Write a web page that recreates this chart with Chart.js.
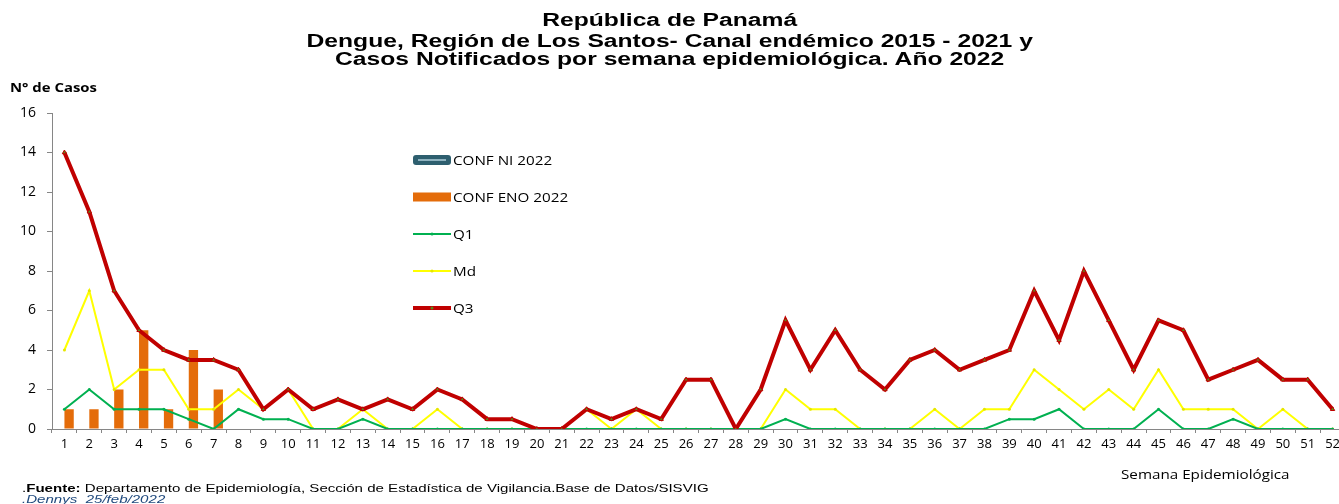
<!DOCTYPE html>
<html lang="es">
<head>
<meta charset="utf-8">
<title>Dengue, Región de Los Santos - Canal endémico</title>
<script src="https://cdn.jsdelivr.net/npm/chart.js@4.4.1/dist/chart.umd.min.js"></script>
<style>
    html, body { margin: 0; padding: 0; background: #fff; overflow: hidden; }
    #wrap { position: relative; width: 1339px; height: 504px; overflow: hidden; }
    #chartCanvas { position: absolute; left: 0; top: 0; }
    .title {
        position: absolute; left: 0; width: 1339px; text-align: center;
        font-family: "Liberation Sans", Arial, sans-serif; font-weight: bold;
        font-size: 18px; line-height: 18px; color: #000;
        transform: scaleX(1.37); transform-origin: 669px 0;
    }
    .yTitle {
        position: absolute; left: 10px; top: 79px;
        font-family: "Open Sans", sans-serif; font-weight: bold; font-size: 12px; color: #000;
        transform: scaleX(1.24); transform-origin: 0 0;
    }
    .xTitle {
        position: absolute; left: 1121px; top: 465px;
        font-family: "Open Sans", sans-serif; font-size: 13px; color: #000;
        transform: scaleX(1.17); transform-origin: 0 0;
    }
    .foot {
        position: absolute; left: 22px; white-space: nowrap;
        font-family: "Liberation Sans", Arial, sans-serif; font-size: 11px; line-height: 11px;
        transform: scaleX(1.37); transform-origin: 0 0;
    }
</style>
</head>
<body>
<div id="wrap">
    <canvas id="chartCanvas" width="1350" height="504"></canvas>
    <div class="title" style="top:11px">República de Panamá</div>
    <div class="title" style="top:32px">Dengue, Región de Los Santos- Canal endémico 2015 - 2021 y</div>
    <div class="title" style="top:50px">Casos Notificados por semana epidemiológica. Año 2022</div>
    <div class="yTitle">N° de Casos</div>
    <div class="xTitle">Semana Epidemiológica</div>
    <div class="foot" style="top:483px">.<b>Fuente:</b> Departamento de Epidemiología, Sección de Estadística de Vigilancia.Base de Datos/SISVIG</div>
    <div class="foot" style="top:494px;color:#1f497d;font-style:italic">.Dennys&nbsp; 25/feb/2022</div>
</div>

<script>
// ===== DATA =====
const weeks = ["1", "2", "3", "4", "5", "6", "7", "8", "9", "10", "11", "12", "13",
    "14", "15", "16", "17", "18", "19", "20", "21", "22", "23", "24", "25", "26",
    "27", "28", "29", "30", "31", "32", "33", "34", "35", "36", "37", "38", "39",
    "40", "41", "42", "43", "44", "45", "46", "47", "48", "49", "50", "51", "52"];

const yTicks = [0, 2, 4, 6, 8, 10, 12, 14, 16];

// Casos 2022 (solo semanas 1-7 notificadas)
const confNi2022 = [0, 0, 0, 0, 0, 0, 0];
const confEno2022 = [1, 1, 2, 5, 1, 4, 2];

// Canal endemico 2015 - 2021
const q1 = [1, 2, 1, 1, 1, 0.5, 0, 1, 0.5, 0.5, 0, 0, 0.5, 0, 0, 0, 0, 0, 0, 0,
    0, 0, 0, 0, 0, 0, 0, 0, 0, 0.5, 0, 0, 0, 0, 0, 0, 0, 0, 0.5, 0.5, 1, 0, 0,
    0, 1, 0, 0, 0.5, 0, 0, 0, 0];
const md = [4, 7, 2, 3, 3, 1, 1, 2, 1, 2, 0, 0, 1, 0, 0, 1, 0, 0, 0, 0,
    0, 1, 0, 1, 0, 0, 0, 0, 0, 2, 1, 1, 0, 0, 0, 1, 0, 1, 1, 3, 2, 1, 2,
    1, 3, 1, 1, 1, 0, 1, 0, 0];
const q3 = [14, 11, 7, 5, 4, 3.5, 3.5, 3, 1, 2, 1, 1.5, 1, 1.5, 1, 2, 1.5, 0.5, 0.5, 0,
    0, 1, 0.5, 1, 0.5, 2.5, 2.5, 0, 2, 5.5, 3, 5, 3, 2, 3.5, 4, 3, 3.5, 4, 7, 4.5, 8, 5.5,
    3, 5.5, 5, 2.5, 3, 3.5, 2.5, 2.5, 1];

// ===== LEGEND INSIDE PLOT =====
const legendPlugin = {
    id: "insideLegend",
    afterDraw(chart) {
        const ctx = chart.ctx;
        const sets = chart.data.datasets;
        const rows = [160, 197, 234, 271, 308];
        const x0 = 413, x1 = 451;

        ctx.save();
        ctx.font = "13px 'Open Sans', sans-serif";
        ctx.textBaseline = "middle";

        sets.forEach((ds, i) => {
            const y = rows[i];
            if (ds.type === "bar") {
                ctx.fillStyle = ds.backgroundColor;
                if (i === 0) {
                    // rounded swatch with light inner stroke
                    ctx.beginPath();
                    ctx.roundRect(x0, y - 5, x1 - x0, 10, 3);
                    ctx.fill();
                    ctx.strokeStyle = "#8fb3c0";
                    ctx.lineWidth = 2;
                    ctx.beginPath();
                    ctx.moveTo(x0 + 5, y);
                    ctx.lineTo(x1 - 5, y);
                    ctx.stroke();
                } else {
                    ctx.fillRect(x0, y - 4.5, x1 - x0, 9);
                }
            } else {
                ctx.strokeStyle = ds.borderColor;
                ctx.lineWidth = ds.borderWidth;
                ctx.beginPath();
                ctx.moveTo(x0, y);
                ctx.lineTo(x1, y);
                ctx.stroke();
                ctx.fillStyle = ds.pointBackgroundColor;
                ctx.beginPath();
                ctx.arc((x0 + x1) / 2, y, 1.5, 0, Math.PI * 2);
                ctx.fill();
            }
            // text is a bit wider in the original
            ctx.save();
            ctx.translate(x1 + 2, y + 1);
            ctx.scale(1.17, 1);
            ctx.fillStyle = "#000";
            ctx.fillText(ds.label, 0, 0);
            ctx.restore();
        });
        ctx.restore();
    }
};

function buildChart() {
    const canvas = document.getElementById("chartCanvas");

    new Chart(canvas, {
        data: {
            labels: weeks,
            datasets: [
                {
                    type: "bar",
                    label: "CONF NI 2022",
                    data: confNi2022,
                    backgroundColor: "#2e5f6f",
                    categoryPercentage: 0.75,
                    barPercentage: 1.0,
                    order: 2,
                },
                {
                    type: "bar",
                    label: "CONF ENO 2022",
                    data: confEno2022,
                    backgroundColor: "#e46c0a",
                    categoryPercentage: 0.75,
                    barPercentage: 1.0,
                    order: 2,
                },
                {
                    type: "line",
                    label: "Q1",
                    data: q1,
                    borderColor: "#00b050",
                    borderWidth: 2,
                    pointRadius: 1.5,
                    pointBackgroundColor: "#00b050",
                    pointBorderWidth: 0,
                    tension: 0,
                    order: 1,
                },
                {
                    type: "line",
                    label: "Md",
                    data: md,
                    borderColor: "#ffff00",
                    borderWidth: 2,
                    pointRadius: 1.5,
                    pointBackgroundColor: "#e6e600",
                    pointBorderWidth: 0,
                    tension: 0,
                    order: 1,
                },
                {
                    type: "line",
                    label: "Q3",
                    data: q3,
                    borderColor: "#c00000",
                    borderWidth: 4,
                    pointStyle: "triangle",
                    pointRadius: 2.5,
                    pointBackgroundColor: "#5a8a1a",
                    pointBorderColor: "#c00000",
                    pointBorderWidth: 1,
                    tension: 0,
                    order: 0,
                },
            ],
        },
        options: {
            responsive: false,
            animation: false,
            layout: {
                padding: { top: 113, bottom: 50, left: 0, right: 3 },
            },
            plugins: {
                legend: { display: false },
                tooltip: { enabled: false },
            },
            scales: {
                x: {
                    offset: true,
                    grid: {
                        offset: true,
                        drawOnChartArea: false,
                        drawTicks: true,
                        tickLength: 4,
                        color: "#868686",
                    },
                    border: { color: "#868686", width: 1 },
                    ticks: {
                        color: "#000",
                        font: { family: "'Open Sans', sans-serif", size: 13 },
                        padding: 3,
                        maxRotation: 0,
                        autoSkip: false,
                    },
                    afterFit: (scale) => { scale.height = 25; },
                },
                y: {
                    min: 0,
                    max: 16,
                    afterBuildTicks: (scale) => {
                        scale.ticks = yTicks.map((v) => ({ value: v }));
                    },
                    grid: {
                        drawOnChartArea: false,
                        drawTicks: true,
                        tickLength: 5,
                        color: "#868686",
                    },
                    border: { color: "#868686", width: 1 },
                    ticks: {
                        color: "#000",
                        font: { family: "'Open Sans', sans-serif", size: 14 },
                        padding: 11,
                    },
                    afterFit: (scale) => { scale.width = 52; },
                },
            },
        },
        plugins: [legendPlugin],
    });
}

document.addEventListener("DOMContentLoaded", buildChart);
</script>
</body>
</html>
